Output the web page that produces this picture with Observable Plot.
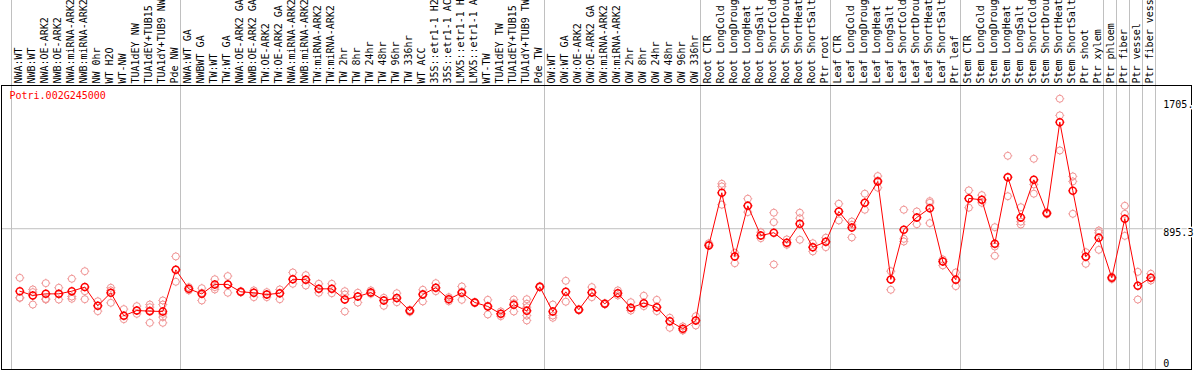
<!DOCTYPE html>
<html>
<head>
<meta charset="utf-8">
<script src="https://cdn.jsdelivr.net/npm/d3@7"></script>
<script src="https://cdn.jsdelivr.net/npm/@observablehq/plot@0.6"></script>
<style>
  html, body { margin: 0; padding: 0; background: #fff; }
  #chart svg { display: block; }
</style>
</head>
<body>
<div id="chart"></div>
<script>
const geneName = "Potri.002G245000";

const categories = [
  "NWA:WT","NWB:WT","NWA:OE-ARK2","NWB:OE-ARK2","NWA:miRNA-ARK2","NWB:miRNA-ARK2","NW 0hr","WT H2O","WT-NW","TUA1dEY NW","TUA1dEY+TUB15 NW","TUA1dY+TUB9 NW","Pde NW",
  "NWA:WT GA","NWBWT GA","TW:WT","TW:WT GA","NWA:OE-ARK2 GA","NWB:OE-ARK2 GA","TW:OE-ARK2","TW:OE-ARK2 GA","NWA:miRNA-ARK2","NWB:miRNA-ARK2","TW:miRNA-ARK2","TW:miRNA-ARK2","TW 2hr","TW 8hr","TW 24hr","TW 48hr","TW 96hr","TW 336hr","WT ACC","35S::etr1-1 H2O","35S::etr1-1 ACC","LMX5::etr1-1 H2O","LMX5::etr1-1 ACC","WT-TW","TUA1dEY TW","TUA1dEY+TUB15 TW","TUA1dY+TUB9 TW","Pde TW",
  "OW:WT","OW:WT GA","OW:OE-ARK2","OW:OE-ARK2 GA","OW:miRNA-ARK2","OW:miRNA-ARK2","OW 2hr","OW 8hr","OW 24hr","OW 48hr","OW 96hr","OW 336hr",
  "Root CTR","Root LongCold","Root LongDrought","Root LongHeat","Root LongSalt","Root ShortCold","Root ShortDrought","Root ShortHeat","Root ShortSalt","Ptr root",
  "Leaf CTR","Leaf LongCold","Leaf LongDrought","Leaf LongHeat","Leaf LongSalt","Leaf ShortCold","Leaf ShortDrought","Leaf ShortHeat","Leaf ShortSalt","Ptr leaf",
  "Stem CTR","Stem LongCold","Stem LongDrought","Stem LongHeat","Stem LongSalt","Stem ShortCold","Stem ShortDrought","Stem ShortHeat","Stem ShortSalt","Ptr shoot","Ptr xylem",
  "Ptr phloem","Ptr fiber","Ptr vessel","Ptr fiber vessel"
];

// sizes of the groups separated by grey vertical lines
const groupSizes = [13, 28, 12, 10, 10, 11, 1, 1, 1, 1];

const means = [
  498,471,481,481,498,524,405,488,342,375,371,369,634,
  513,481,541,541,494,488,477,485,574,571,513,513,445,464,490,439,454,373,477,520,447,488,426,401,354,412,373,526,
  369,494,380,490,418,485,392,422,396,307,259,312,
  789,1124,719,1041,852,870,806,927,778,812,
  1005,903,1060,1196,573,889,967,1026,687,571,
  1088,1079,800,1223,967,1206,994,1573,1137,717,838,
  583,959,532,583
];

const replicates = [
  [583,456,456],[509,492,413],[549,449,445],[520,478,445],[577,464,450],[625,498,447],[434,405,371],[520,503,424],[384,343,320],[403,354,375],[413,396,375,297],[439,413,354,333,297],[719,634,558],
  [524,513,503],[517,487,439],[574,524,509],[594,541,488],[494,490,498],[503,460,488],[492,460,477],[509,447,483],[617,545,574],[600,534,571],[545,488,513],[545,485,513],[498,477,369],[488,426,464],[503,481,490],[456,405,439],[485,428,454],[373,380,366],[507,433,481],[549,498,520],[460,434,447],[528,443,496],[426,430,422],[443,350,405],[369,339,354],[445,369,422],[447,418,396,373,343,312],[526,530,522],
  [413,343,329],[564,431,494],[380,384,376],[524,460,490],[418,422,414],[503,471,485],[428,375,392],[469,403,422],[443,371,396],[329,265,307],[274,248,259],[339,280,312],
  [803,795,789],[1181,1164,1048],[742,676,719],[1086,1001,1041],[873,835,852],[997,937,668],[827,793,806],[997,962,825],[803,751,778],[838,778,812],
  [1054,948,1005],[941,840,920],[1118,1016,1060],[1230,1156,1202],[625,507,573],[1016,831,814],[1005,924,967],[1071,931,1060],[700,662,687],[617,530,571],
  [1139,1029,1088],[1109,1079,1060],[905,782,723],[1359,1102,1223],[1032,922,940],[1340,1177,1118],[994,1000,988],[1722,1616,1393],[1228,1196,990],[746,672,717],[884,869,761],
  [583,590,575],[1041,990,850],[621,445,532],[609,566,583]
];

const yTicks = [0, 895.3, 1705];
const yTickLabels = ["0", "895.3", "1705."];
const yMax = 1806;

// derived tables
const meanRows = means.map((v, i) => ({i, v}));
const repRows = replicates.flatMap((arr, i) => arr.map(v => ({i, v})));
const separators = [-0.5];
{ let acc = -0.5; for (const s of groupSizes) { acc += s; separators.push(acc); } }

const ringTicks = {
  draw(ctx, size) {
    const r = Math.sqrt(size / Math.PI);
    ctx.moveTo(r, 0);
    ctx.arc(0, 0, r, 0, 2 * Math.PI);
    for (const [a, b] of [[0,-1],[0,1],[-1,0],[1,0]]) {
      ctx.moveTo(a * r, b * r);
      ctx.lineTo(a * (r + 1), b * (r + 1));
    }
  }
};

const red = "#ff0000";
const pink = "#f09494";
const grey = "#c0c0c0";

const chart = Plot.plot({
  width: 1194,
  height: 370,
  marginTop: 85,
  marginBottom: 1,
  marginLeft: 1,
  marginRight: 3,
  style: {fontFamily: "'DejaVu Sans Mono', monospace", fontSize: "10px", background: "#fff"},
  x: {domain: [-0.5, 87.5], range: [12.8, 1156.8], axis: null},
  y: {domain: [0, yMax], axis: null},
  marks: [
    Plot.ruleY([895.3], {stroke: grey, strokeWidth: 1}),
    Plot.ruleX(separators, {x: d => d, y1: -10, y2: 2400, stroke: grey, strokeWidth: 1, dx: -1.8}),
    Plot.frame({stroke: "black", strokeWidth: 1}),
    Plot.dot(repRows, {x: "i", y: "v", r: 3.5, symbol: ringTicks, stroke: pink, strokeWidth: 1, fill: "none"}),
    Plot.line(meanRows, {x: "i", y: "v", stroke: red, strokeWidth: 1}),
    Plot.dot(meanRows, {x: "i", y: "v", r: 3.5, symbol: ringTicks, stroke: red, strokeWidth: 1.5, fill: "none"}),
    Plot.text(categories, {x: (d, i) => i, frameAnchor: "top", dy: -2, dx: -1, rotate: -90, textAnchor: "start", lineAnchor: "middle", text: d => d, fill: "black", fontSize: 10}),
    Plot.text([geneName], {frameAnchor: "top-left", dx: 8, dy: 6, textAnchor: "start", lineAnchor: "top", fill: red, fontSize: 10}),
    Plot.text(yTicks.slice(1), {x: 87.5, y: d => d, dx: 6, textAnchor: "start", lineAnchor: "top", text: (d, i) => yTickLabels[i + 1], fill: "black", fontSize: 10, stroke: "white", strokeWidth: 3}),
    Plot.text(yTicks.slice(0, 1), {x: 87.5, y: d => d, dx: 6, dy: -3, textAnchor: "start", lineAnchor: "bottom", text: (d, i) => yTickLabels[i], fill: "black", fontSize: 10})
  ]
});
document.getElementById("chart").appendChild(chart);
</script>
</body>
</html>
